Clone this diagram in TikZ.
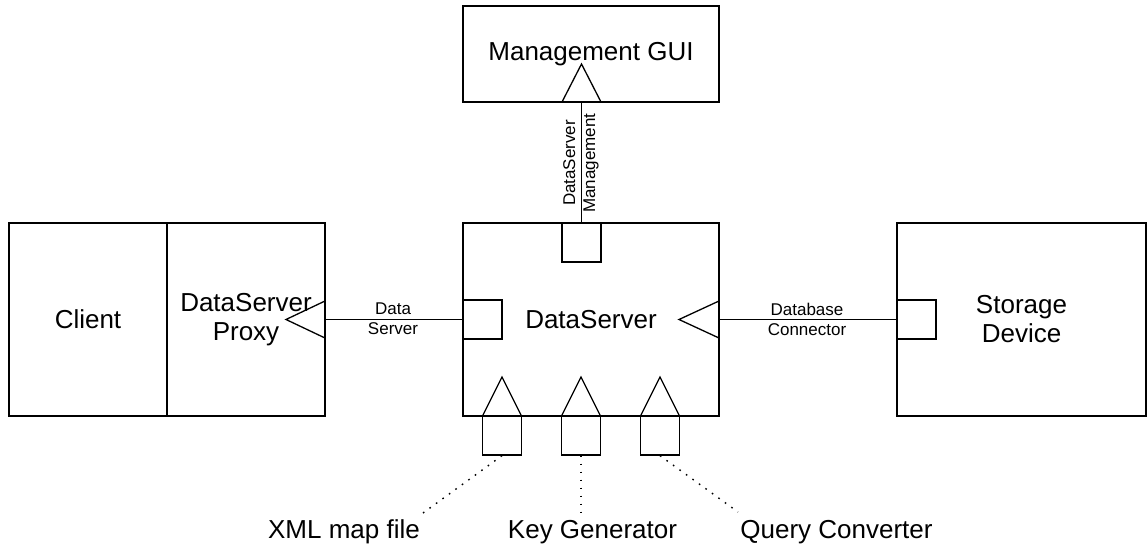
\documentclass[tikz,border=0pt]{standalone}
\usepackage{fontspec}
\setmainfont{Liberation Sans}
\newcommand{\bigtxt}{\fontsize{26}{29}\selectfont}
\newcommand{\smalltxt}{\fontsize{17}{20}\selectfont}
\tikzset{
  comp/.style={draw, line width=1.3pt, inner sep=0pt, align=center, font=\bigtxt},
  port/.style={draw, line width=1.3pt, minimum size=39pt, inner sep=0pt},
  socket/.style={draw, line width=1.3pt, line join=miter},
  wire/.style={draw, line width=1.3pt},
  note/.style={draw, line width=1.4pt, dash pattern=on 1.6pt off 6.4pt},
  ifname/.style={align=center, font=\smalltxt, inner sep=0pt},
  filelabel/.style={font=\bigtxt, inner sep=0pt, anchor=base}
}
\begin{document}
\begin{tikzpicture}[x=1pt, y=-1pt]
  \useasboundingbox (0,0) rectangle (1148,546);

  % components
  \node[comp, minimum width=256pt, minimum height=96pt]  (gui)     at (591,54)     {Management GUI};
  \node[comp, minimum width=256pt, minimum height=193pt] (ds)      at (591,319.5)  {DataServer};
  \node[comp, minimum width=158pt, minimum height=193pt] (client)  at (88,319.5)   {Client};
  \node[comp, minimum width=158pt, minimum height=193pt] (proxy)   at (246,319.5)  {DataServer\\Proxy};
  \node[comp, minimum width=249pt, minimum height=193pt] (storage) at (1021.5,319.5) {Storage\\Device};

  % provided interfaces (ports)
  \node[port] (ptop)   at (581.5,242.5) {};
  \node[port] (pleft)  at (482.5,319.5) {};
  \node[port] (pstore) at (916.5,319.5) {};
  \node[port] (pb1)    at (502,435.5)   {};
  \node[port] (pb2)    at (581,435.5)   {};
  \node[port] (pb3)    at (660,435.5)   {};

  % required interfaces (sockets)
  \path[socket] (562,102) -- (581.5,64) -- (601,102);
  \coordinate (guimouth) at (581.5,102);
  \path[socket] (325,301) -- (286,319.5) -- (325,338);
  \path[socket] (719,301) -- (679,319.5) -- (719,338);
  \foreach \x/\n in {502/1, 581/2, 660/3} {
    \path[socket] (\x-19.5,416) -- (\x,377) -- (\x+19.5,416);
  }

  % connectors
  \path[wire] (guimouth) -- (ptop.north);
  \path[wire] (proxy.east) -- (pleft.west);
  \path[wire] (ds.east) -- (pstore.west);

  % interface names
  \node[ifname, rotate=90] (lmgmt) at (581,163) {DataServer\\Management};
  \node[ifname] (ldata) at (393,319) {Data\\Server};
  \node[ifname] (ldb)   at (807,319) {Database\\Connector};

  % external artefacts
  \node[filelabel] (xml)   at (344,538)   {XML map file};
  \node[filelabel] (keyg)  at (592.5,538) {Key Generator};
  \node[filelabel] (query) at (836.5,538) {Query Converter};
  \coordinate (xmlend)   at (423,513);
  \coordinate (keyend)   at (581,512);
  \coordinate (queryend) at (738,512);
  \path[note] (pb1.south) -- (xmlend);
  \path[note] (pb2.south) -- (keyend);
  \path[note] (pb3.south) -- (queryend);
\end{tikzpicture}
\end{document}
